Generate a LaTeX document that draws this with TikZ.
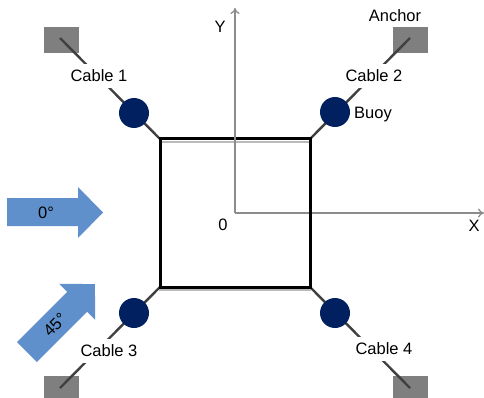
\documentclass[tikz,border=0pt]{standalone}
\usepackage{fontspec}
\setmainfont{Liberation Sans}
\usetikzlibrary{arrows.meta}
\definecolor{buoyblue}{HTML}{002060}
\definecolor{flowblue}{HTML}{6090CB}
\definecolor{anchorgray}{HTML}{7F7F7F}
\definecolor{axisgray}{HTML}{8C8C8C}
\tikzset{
  anchorbox/.style={fill=anchorgray, draw=none, minimum width=35pt, minimum height=26pt, inner sep=0pt},
  buoy/.style={circle, fill=buoyblue, minimum size=30pt, inner sep=0pt},
  cable/.style={line width=2.4pt, draw=black!75},
  lbl/.style={font=\fontsize{16.5}{18}\selectfont, inner sep=0pt},
  cablelbl/.style={lbl, fill=white, inner xsep=1pt, inner ysep=6pt},
  axis/.style={draw=axisgray, line width=1.3pt, -{To[length=6pt,width=9pt]}},
  flow/.style={fill=flowblue, draw=none},
}
\begin{document}
\begin{tikzpicture}[x=1pt,y=-1pt]
\useasboundingbox (0,0) rectangle (484,398);
% anchors
\node[anchorbox] (a1) at (61,40) {};
\node[anchorbox] (a2) at (410,40) {};
\node[anchorbox] (a3) at (61,389) {};
\node[anchorbox] (a4) at (410,389) {};
\coordinate (a1c) at (60,38);
\coordinate (a2c) at (410,38);
\coordinate (a3c) at (60,388);
\coordinate (a4c) at (410,388);
% square corners
\coordinate (c1) at (160,139);
\coordinate (c2) at (310,139);
\coordinate (c3) at (160,287);
\coordinate (c4) at (310,287);
% cables
\draw[cable] (a1c) -- (c1);
\draw[cable] (a2c) -- (c2);
\draw[cable] (a3c) -- (c3);
\draw[cable] (a4c) -- (c4);
% axes
\coordinate (o) at (235,213);
\coordinate (ytip) at (235,8);
\coordinate (xtip) at (484,213);
\draw[axis] (o) -- (xtip);
% square
\draw[gray!55, line width=2pt] (160,142) rectangle (310,290);
\draw[black, line width=3pt] (c1) rectangle (c4);
\draw[axis] (o) -- (ytip);
% buoys
\node[buoy] (b1) at (134,113) {};
\node[buoy] (b2) at (335,112) {};
\node[buoy] (b3) at (134,313) {};
\node[buoy] (b4) at (335,313) {};
% labels
\node[cablelbl] (l1) at (99,76) {Cable 1};
\node[cablelbl] (l2) at (374,76) {Cable 2};
\node[cablelbl] (l3) at (109,351) {Cable 3};
\node[cablelbl] (l4) at (384,349) {Cable 4};
\node[lbl] (anc) at (395,16) {Anchor};
\node[lbl] (buoytxt) at (373,115) {Buoy};
\node[lbl] (ylbl) at (220,27) {Y};
\node[lbl] (xlbl) at (474,226) {X};
\node[lbl] (zero) at (223,225) {0};
% flow arrows
\fill[flow] (7,198) -- (78,198) -- (78,187) -- (103,212.5) -- (78,238) -- (78,226) -- (7,226) -- cycle;
\node[lbl] (deg0) at (46,213) {0°};
\begin{scope}[shift={(27,352)}, rotate=45]
\fill[flow] (0,-14) -- (71,-14) -- (71,-25.5) -- (96,0) -- (71,25.5) -- (71,14) -- (0,14) -- cycle;
\end{scope}
\node[lbl, rotate=45] (deg45) at (55,325) {45°};
\end{tikzpicture}
\end{document}
